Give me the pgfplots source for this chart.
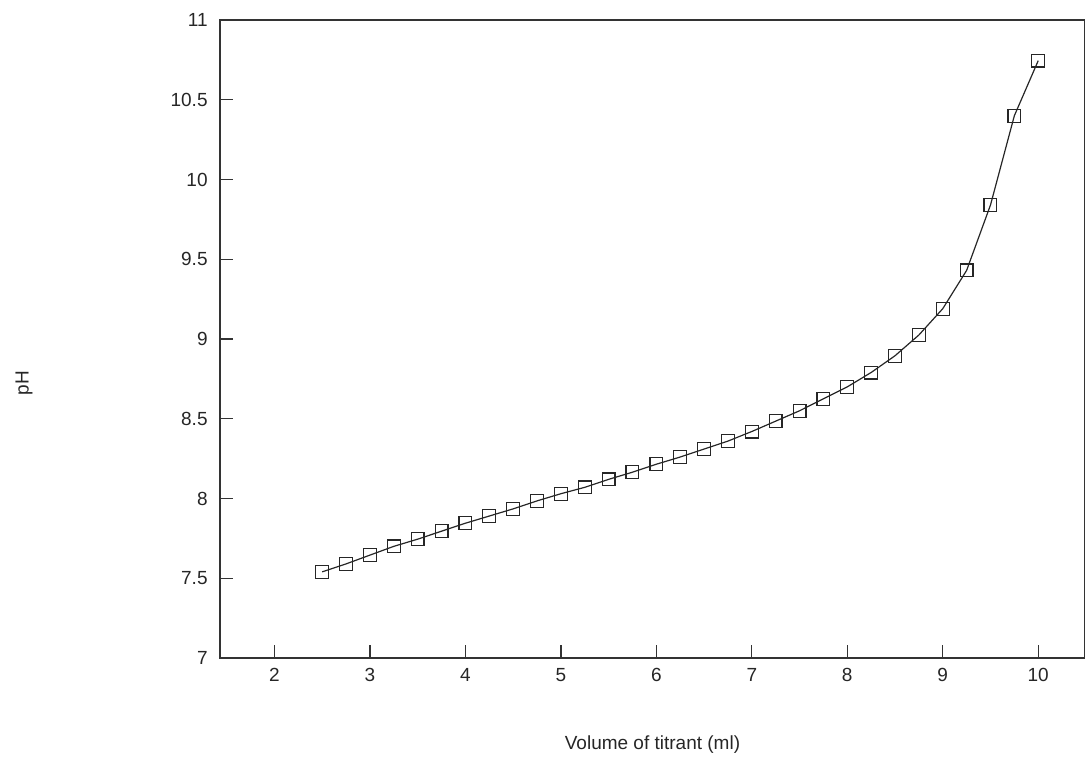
\documentclass[border=0pt]{standalone}
\usepackage{fontspec}
\setmainfont{Liberation Sans}
\usepackage{pgfplots}
\pgfplotsset{compat=1.18}
\begin{document}
\fontsize{9}{11}\selectfont
\begin{tikzpicture}
\path[use as bounding box] (-110pt,-51.5pt) rectangle (432.5pt,329pt);
\begin{axis}[
  at={(0,0)}, anchor=south west,
  scale only axis,
  width=432.5pt, height=319pt,
  xmin=1.43, xmax=10.49, ymin=7, ymax=11,
  xtick={2,3,...,10},
  ytick={7,7.5,...,11},
  tick pos=left,
  tick align=inside,
  major tick length=6.5pt,
  axis line style={line width=0.9pt, black!80},
  major tick style={line width=0.7pt, black!80},
  /pgf/number format/assume math mode=true,
  ticklabel style={font=\fontsize{9.5}{11}\selectfont, text=black!85},
  yticklabel style={xshift=-3pt},
  xticklabel style={yshift=-2pt},
  xlabel={Volume of titrant (ml)},
  ylabel={pH},
  label style={font=\fontsize{9.5}{11}\selectfont, text=black!85},
  xlabel style={at={(axis description cs:0.5,0)}, anchor=center, yshift=-43.5pt},
  ylabel style={at={(axis description cs:-0.2266,0.431)}, anchor=center},
]
\addplot[black!85, line width=0.6pt, mark=square, mark size=3.2pt, mark options={line width=0.6pt}] coordinates {
(2.5,7.54) (2.75,7.59) (3.0,7.645) (3.25,7.70) (3.5,7.745) (3.75,7.795)
(4.0,7.845) (4.25,7.89) (4.5,7.935) (4.75,7.985) (5.0,8.03) (5.25,8.07)
(5.5,8.12) (5.75,8.165) (6.0,8.215) (6.25,8.26) (6.5,8.31) (6.75,8.36)
(7.0,8.42) (7.25,8.485) (7.5,8.55) (7.75,8.625) (8.0,8.70) (8.25,8.79)
(8.5,8.895) (8.75,9.025) (9.0,9.19) (9.25,9.43) (9.5,9.84) (9.75,10.40)
(10.0,10.745)
};
\end{axis}
\end{tikzpicture}
\end{document}
